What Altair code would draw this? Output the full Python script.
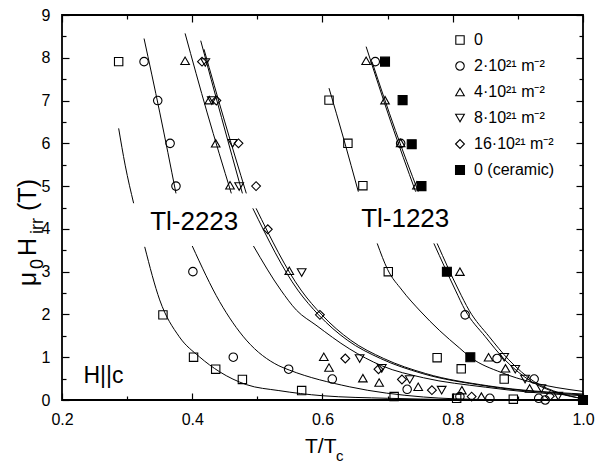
import altair as alt
import pandas as pd

FONT = "Liberation Sans"

# ---- measured irreversibility points (T/Tc, mu0*Hirr in tesla) ----
SERIES = ["0", "2·10²¹ m⁻²", "4·10²¹ m⁻²", "8·10²¹ m⁻²", "16·10²¹ m⁻²", "0 (ceramic)"]

sq_t = [0.287, 0.355, 0.402, 0.436, 0.477, 0.568, 0.710, 0.806,
        0.610, 0.639, 0.662, 0.701, 0.776, 0.813, 0.879, 0.893]
sq_h = [7.91, 1.99, 1.00, 0.72, 0.48, 0.22, 0.08, 0.04,
        7.01, 6.00, 5.01, 3.00, 0.99, 0.73, 0.49, 0.02]

ci_t = [0.326, 0.347, 0.366, 0.375, 0.401, 0.463, 0.548, 0.615, 0.730, 0.811, 0.857,
        0.681, 0.720, 0.819, 0.868, 0.925, 0.932, 0.942]
ci_h = [7.91, 7.00, 6.00, 5.00, 3.00, 1.00, 0.72, 0.49, 0.25, 0.08, 0.04,
        7.91, 6.00, 1.99, 0.97, 0.49, 0.04, 0.00]

tu_t = [0.389, 0.426, 0.436, 0.458, 0.549, 0.602, 0.610, 0.662, 0.687, 0.747, 0.814, 0.844,
        0.667, 0.696, 0.720, 0.745, 0.811, 0.855, 0.881, 0.918]
tu_h = [7.93, 7.01, 6.00, 5.02, 3.02, 1.01, 0.76, 0.51, 0.41, 0.31, 0.23, 0.08,
        7.93, 7.01, 6.01, 5.02, 3.00, 1.00, 0.74, 0.27]

td_t = [0.420, 0.430, 0.462, 0.472, 0.568, 0.657, 0.691, 0.734, 0.783,
        0.879, 0.896, 0.911, 0.936, 0.962]
td_h = [7.89, 7.00, 6.00, 4.99, 2.98, 0.97, 0.74, 0.48, 0.23,
        1.00, 0.72, 0.49, 0.27, 0.09]

di_t = [0.415, 0.437, 0.471, 0.498, 0.516, 0.596, 0.635, 0.686, 0.722, 0.768, 0.829, 0.949]
di_h = [7.91, 7.00, 6.00, 5.00, 3.99, 1.99, 0.97, 0.72, 0.48, 0.23, 0.08, 0.09]

ce_t = [0.696, 0.723, 0.737, 0.752, 0.791, 0.827, 1.000]
ce_h = [7.91, 7.01, 5.98, 5.00, 3.00, 1.00, 0.00]

# ---- fitted curves, high-field and low-field branches ----
# Tl-2223
f_sq_hi_t = [0.287, 0.297, 0.310]
f_sq_hi_h = [6.35, 5.49, 4.60]
f_sq_lo_t = [0.327, 0.350, 0.380, 0.411, 0.442, 0.483, 0.533, 0.600, 0.700, 0.800]
f_sq_lo_h = [3.58, 2.34, 1.48, 1.01, 0.66, 0.36, 0.22, 0.10, 0.04, 0.01]

f_ci_hi_t = [0.326, 0.350, 0.375]
f_ci_hi_h = [8.45, 6.73, 4.83]
f_ci_lo_t = [0.400, 0.442, 0.483, 0.533, 0.549, 0.641, 0.755, 0.850]
f_ci_lo_h = [3.60, 2.30, 1.40, 0.80, 0.70, 0.31, 0.07, 0.01]

f_tu_hi_t = [0.389, 0.423, 0.460]
f_tu_hi_h = [8.57, 6.71, 4.83]
f_tu_lo_t = [0.494, 0.536, 0.560, 0.590, 0.641, 0.691, 0.755, 0.850, 0.920, 1.000]
f_tu_lo_h = [3.60, 2.57, 2.10, 1.75, 1.20, 0.80, 0.52, 0.30, 0.18, 0.10]

f_td_hi_t = [0.413, 0.445, 0.477]
f_td_hi_h = [8.40, 6.60, 4.83]
f_td_lo_t = [0.493, 0.562, 0.594, 0.638, 0.689, 0.753, 0.850, 1.000]
f_td_lo_h = [4.48, 2.57, 1.99, 1.40, 0.97, 0.62, 0.33, 0.12]

f_di_hi_t = [0.418, 0.450, 0.483]
f_di_hi_h = [8.20, 6.50, 4.83]
f_di_lo_t = [0.498, 0.567, 0.599, 0.643, 0.694, 0.758, 0.855, 1.000]
f_di_lo_h = [4.48, 2.57, 1.99, 1.40, 0.97, 0.62, 0.33, 0.14]

# Tl-1223
g_sq_hi_t = [0.610, 0.633, 0.655]
g_sq_hi_h = [7.29, 6.08, 4.87]
g_sq_lo_t = [0.684, 0.700, 0.722, 0.750, 0.780, 0.810, 0.827, 0.875, 0.920, 1.000]
g_sq_lo_h = [3.66, 3.05, 2.57, 2.08, 1.62, 1.22, 1.00, 0.64, 0.42, 0.20]

g_tu_hi_t = [0.667, 0.705, 0.743]
g_tu_hi_h = [8.26, 6.50, 4.87]
g_tu_lo_t = [0.771, 0.804, 0.819, 0.850, 0.880, 0.921, 0.962, 1.000]
g_tu_lo_h = [3.66, 2.57, 2.10, 1.48, 0.94, 0.43, 0.16, 0.03]

g_ci_hi_t = [0.676, 0.712, 0.747]
g_ci_hi_h = [7.91, 6.30, 4.87]
g_ci_lo_t = [0.776, 0.809, 0.825, 0.856, 0.886, 0.925, 0.965, 1.000]
g_ci_lo_h = [3.66, 2.57, 2.10, 1.48, 0.94, 0.43, 0.16, 0.03]

# ---- annotations ----
compound_txt = ["Tl-2223", "Tl-1223"]
compound_t = [0.403, 0.727]
compound_h = [3.97, 4.05]
field_txt = ["H||c"]
field_t = [0.233]
field_h = [0.39]

# ---- axis ticks ----
X_MAJOR = [0.2, 0.4, 0.6, 0.8, 1.0]
X_MINOR = [0.3, 0.5, 0.7, 0.9]
Y_MAJOR = [0, 1, 2, 3, 4, 5, 6, 7, 8, 9]
Y_MINOR = [0.5, 1.5, 2.5, 3.5, 4.5, 5.5, 6.5, 7.5, 8.5]

# ---------------------------------------------------------------
series_data = [(sq_t, sq_h), (ci_t, ci_h), (tu_t, tu_h), (td_t, td_h), (di_t, di_h), (ce_t, ce_h)]
points = pd.concat(
    [pd.DataFrame({"t": t, "h": h, "series": name}) for name, (t, h) in zip(SERIES, series_data)],
    ignore_index=True,
)

curve_data = {
    "sq_hi": (f_sq_hi_t, f_sq_hi_h), "sq_lo": (f_sq_lo_t, f_sq_lo_h),
    "ci_hi": (f_ci_hi_t, f_ci_hi_h), "ci_lo": (f_ci_lo_t, f_ci_lo_h),
    "tu_hi": (f_tu_hi_t, f_tu_hi_h), "tu_lo": (f_tu_lo_t, f_tu_lo_h),
    "td_hi": (f_td_hi_t, f_td_hi_h), "td_lo": (f_td_lo_t, f_td_lo_h),
    "di_hi": (f_di_hi_t, f_di_hi_h), "di_lo": (f_di_lo_t, f_di_lo_h),
    "g_sq_hi": (g_sq_hi_t, g_sq_hi_h), "g_sq_lo": (g_sq_lo_t, g_sq_lo_h),
    "g_tu_hi": (g_tu_hi_t, g_tu_hi_h), "g_tu_lo": (g_tu_lo_t, g_tu_lo_h),
    "g_ci_hi": (g_ci_hi_t, g_ci_hi_h), "g_ci_lo": (g_ci_lo_t, g_ci_lo_h),
}
curves = pd.concat(
    [pd.DataFrame({"t": t, "h": h, "seg": k}) for k, (t, h) in curve_data.items()],
    ignore_index=True,
)

xs = alt.Scale(domain=[0.2, 1.0], nice=False, zero=False)
ys = alt.Scale(domain=[0, 9], nice=False, zero=False)

SHAPES = ["square", "circle", "triangle-up", "triangle-down", "diamond", "square"]
FILLS = ["transparent"] * 5 + ["black"]
STROKES = ["black"] * 6
SIZES = [70, 80, 95, 95, 90, 70]

leg = alt.Legend(
    title=None, orient="none", legendX=390, legendY=17, padding=0,
    labelFont=FONT, labelFontSize=16, labelColor="black", labelOffset=6,
    rowPadding=10, symbolStrokeWidth=1.1,
)

no_x = alt.X("t:Q", scale=xs, axis=None)
no_y = alt.Y("h:Q", scale=ys, axis=None)

pts = alt.Chart(points).mark_point(filled=True, strokeWidth=1.1, opacity=1).encode(
    x=alt.X("t:Q", scale=xs, axis=alt.Axis(
        orient="bottom", values=X_MAJOR, format=".1f", ticks=False, domain=False, grid=False,
        labelFlush=False, labelOverlap=False, labelPadding=11, title=None)),
    y=alt.Y("h:Q", scale=ys, axis=alt.Axis(
        orient="left", values=Y_MAJOR, format="d", ticks=False, domain=False, grid=False,
        labelFlush=False, labelOverlap=False, labelPadding=12, title=None)),
    shape=alt.Shape("series:N", scale=alt.Scale(domain=SERIES, range=SHAPES), legend=leg),
    fill=alt.Fill("series:N", scale=alt.Scale(domain=SERIES, range=FILLS), legend=leg),
    stroke=alt.Stroke("series:N", scale=alt.Scale(domain=SERIES, range=STROKES), legend=leg),
    size=alt.Size("series:N", scale=alt.Scale(domain=SERIES, range=SIZES), legend=leg),
)

lines = alt.Chart(curves).mark_line(color="black", strokeWidth=1, interpolate="monotone").encode(
    x=no_x, y=no_y, detail="seg:N"
)

compounds = alt.Chart(pd.DataFrame({"t": compound_t, "h": compound_h, "txt": compound_txt})).mark_text(
    font=FONT, fontSize=26, align="center", baseline="alphabetic", color="black"
).encode(x=no_x, y=no_y, text="txt:N")

field = alt.Chart(pd.DataFrame({"t": field_t, "h": field_h, "txt": field_txt})).mark_text(
    font=FONT, fontSize=23, align="left", baseline="alphabetic", color="black"
).encode(x=no_x, y=no_y, text="txt:N")


def tick_layer(channel, vals, orient, size):
    # inward ticks: pull the axis into the frame by its own tick length
    ax = alt.Axis(orient=orient, values=vals, labels=False, domain=False, grid=False,
                  ticks=True, tickSize=size, offset=-size, tickColor="black", tickWidth=1.2,
                  title=None)
    df = pd.DataFrame({"v": vals})
    if channel == "x":
        enc = {"x": alt.X("v:Q", scale=xs, axis=ax)}
    else:
        enc = {"y": alt.Y("v:Q", scale=ys, axis=ax)}
    return alt.Chart(df).mark_point(opacity=0).encode(**enc)


ticks = [
    tick_layer("x", X_MAJOR, "bottom", 7), tick_layer("x", X_MINOR, "bottom", 4),
    tick_layer("x", X_MAJOR, "top", 7), tick_layer("x", X_MINOR, "top", 4),
    tick_layer("y", Y_MAJOR, "left", 7), tick_layer("y", Y_MINOR, "left", 4),
    tick_layer("y", Y_MAJOR, "right", 7), tick_layer("y", Y_MINOR, "right", 4),
]

# axis titles with subscripts, placed in pixel space beside the frame
one = pd.DataFrame({"k": [0]})
xt_main = alt.Chart(one).mark_text(text="T/T", font=FONT, fontSize=21, align="left",
                                   baseline="alphabetic", color="black").encode(
    x=alt.value(243), y=alt.value(438))
xt_sub = alt.Chart(one).mark_text(text="c", font=FONT, fontSize=15, align="left",
                                  baseline="alphabetic", color="black").encode(
    x=alt.value(274), y=alt.value(446))

y_pieces = pd.DataFrame({
    "s": ["μ", "0", "H", "irr", "(T)"],
    "px": [-26, -19, -26, -19, -26],
    "py": [264, 249, 232, 211, 180],
    "fs": [25, 18, 25, 18, 25],
})
yt = alt.Chart(y_pieces).mark_text(font=FONT, align="center", baseline="alphabetic",
                                   angle=270, color="black").encode(
    x=alt.X("px:Q", scale=None), y=alt.Y("py:Q", scale=None),
    text="s:N", size=alt.Size("fs:Q", scale=None, legend=None))

chart = alt.layer(lines, pts, compounds, field, *ticks, xt_main, xt_sub, yt).resolve_axis(
    x="independent", y="independent"
).properties(
    width=521, height=385, background="white",
    autosize=alt.AutoSizeParams(type="none"),
    padding={"left": 62, "top": 15, "right": 12, "bottom": 66},
).configure_view(
    stroke="black", strokeWidth=1.8
).configure_axis(
    labelFont=FONT, labelFontSize=16, labelColor="black"
)

chart.save("out.html", embed_options={"renderer": "svg", "actions": False})
